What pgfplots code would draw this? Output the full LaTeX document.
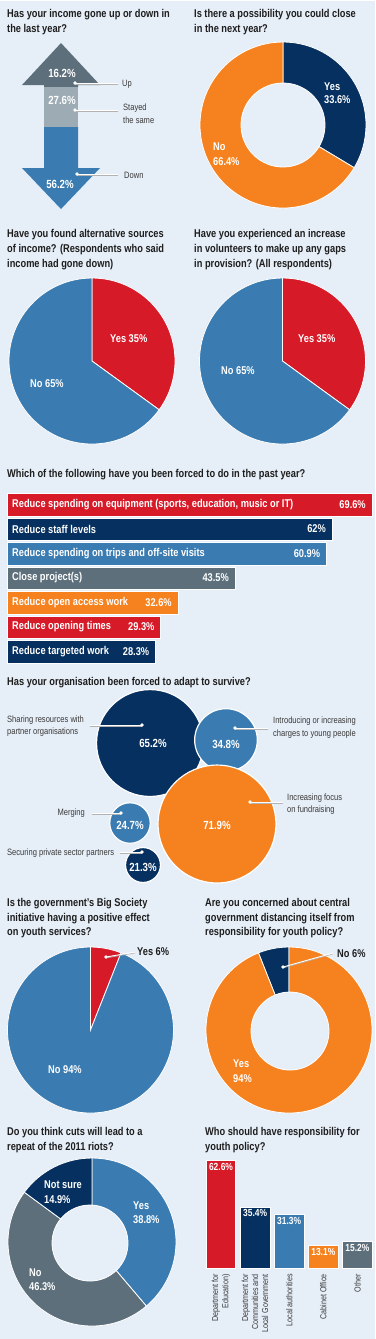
\documentclass[border=0pt]{standalone}
\usepackage{pgfplots}
\pgfplotsset{compat=1.18}
\usepackage{fontspec}
\setmainfont{Liberation Sans}[FakeStretch=0.82]
\definecolor{bg}{HTML}{E6EEF7}
\definecolor{navy}{HTML}{05305F}
\definecolor{blu}{HTML}{3A7CB1}
\definecolor{gred}{HTML}{D71A28}
\definecolor{orng}{HTML}{F5821F}
\definecolor{slate}{HTML}{5C6F7B}
\definecolor{lslate}{HTML}{9CABB4}
\definecolor{ttl}{HTML}{1E1E1E}
\definecolor{lbl}{HTML}{3A3A3A}
\newcommand{\tfont}{\fontsize{11.3}{14}\selectfont\bfseries}
\newcommand{\wfont}{\fontsize{11.3}{14}\selectfont\bfseries}
\newcommand{\bfontx}{\fontsize{11.8}{14}\selectfont\bfseries}
\newcommand{\sfont}{\fontsize{9.2}{12}\selectfont}
\newcommand{\rfont}{\fontsize{8.7}{10}\selectfont}
\newcommand{\vfont}{\fontsize{10.3}{12}\selectfont\bfseries}
% title line
\newcommand{\T}[3]{\node[anchor=base west,inner sep=0pt,text=ttl,font=\tfont] at (axis cs:#1,#2) {#3};}
% white label, base west
\newcommand{\W}[3]{\node[anchor=base west,inner sep=0pt,text=white,font=\wfont] at (axis cs:#1,#2) {#3};}
% dark label, base west
\newcommand{\D}[3]{\node[anchor=base west,inner sep=0pt,text=ttl,font=\wfont] at (axis cs:#1,#2) {#3};}
% white centred label
\newcommand{\C}[3]{\node[anchor=center,inner sep=0pt,text=white,font=\bfontx] at (axis cs:#1,#2) {#3};}
% small label
\newcommand{\SL}[3]{\node[anchor=base west,inner sep=0pt,text=lbl,font=\sfont] at (axis cs:#1,#2) {#3};}
% pie slice: cx, cy, radius, start angle, percent, colour
\newcommand{\slice}[6]{\fill[#6,draw=white,line width=0.8pt] (axis cs:#1,#2) -- ++(#4:#3pt) arc[start angle=#4,delta angle={-3.6*#5},radius=#3pt] -- cycle;}
\newcommand{\hole}[3]{\fill[bg,draw=white,line width=0.8pt] (axis cs:#1,#2) circle[radius=#3pt];}
% leader line
\newcommand{\leader}[4]{\draw[black!30,line width=0.7pt,yshift=-0.9pt] (axis cs:#1,#2) -- (axis cs:#3,#4);
  \draw[white,line width=0.9pt] (axis cs:#1,#2) -- (axis cs:#3,#4);}
\newcommand{\dotat}[2]{\fill[white] (axis cs:#1,#2) circle[radius=1.8pt];}
\pgfplotsset{/pgf/number format/assume math mode=true}
\begin{document}
\begin{tikzpicture}
\fill[bg] (0,0) rectangle (375pt,-1339pt);
\draw[white,line width=1.2pt] (0,-0.6pt) -- (375pt,-0.6pt);
% ================= canvas axis =================
\begin{axis}[at={(0,0)},anchor=north west,x=1pt,y=1pt,y dir=reverse,
  xmin=0,xmax=375,ymin=0,ymax=1339,hide axis,clip=false,clip mode=individual]
% ---- section 1 titles
\T{7}{17}{Has your income gone up or down in}
\T{7}{32}{the last year?}
\T{194}{17}{Is there a possibility you could close}
\T{194}{32}{in the next year?}
% ---- arrow (stacked: up 16.2, same 27.6, down 56.2)
\addplot[fill=slate,draw=none,no marks] coordinates {(61,43) (100,85) (78,85) (78,87) (44,87) (44,85) (22,85)} -- cycle;
\addplot[fill=lslate,draw=none,no marks] coordinates {(44,87) (78,87) (78,127) (44,127)} -- cycle;
\addplot[fill=blu,draw=none,no marks] coordinates {(44,127) (78,127) (78,168) (100,168) (61,209) (22,168) (44,168)} -- cycle;
\C{62}{73}{16.2\%}
\C{62}{100}{27.6\%}
\C{60}{184}{56.2\%}
\leader{75}{83}{118}{83}\dotat{75}{83}
\leader{75}{110}{118}{110}\dotat{75}{110}
\leader{77}{174}{118}{174}\dotat{77}{174}
\SL{122}{86}{Up}
\SL{123}{110}{Stayed}
\SL{123}{123}{the same}
\SL{124}{178}{Down}
% ---- donut: close next year
\slice{283}{125}{83}{90}{33.6}{navy}
\slice{283}{125}{83}{-30.96}{66.4}{orng}
\hole{283}{125}{42}
\W{324}{90}{Yes}
\W{324}{103}{33.6\%}
\W{213}{150}{No}
\W{213}{165}{66.4\%}
% ---- section 2 titles
\T{7}{237}{Have you found alternative sources}
\T{7}{252}{of income? (Respondents who said}
\T{7}{267}{income had gone down)}
\T{194}{237}{Have you experienced an increase}
\T{194}{252}{in volunteers to make up any gaps}
\T{194}{267}{in provision? (All respondents)}
% ---- pies
\slice{92}{361}{83}{90}{35}{gred}
\slice{92}{361}{83}{-36}{65}{blu}
\W{110}{342}{Yes 35\%}
\W{30}{387}{No 65\%}
\slice{282.5}{361}{83}{90}{35}{gred}
\slice{282.5}{361}{83}{-36}{65}{blu}
\W{298}{342}{Yes 35\%}
\W{221}{374}{No 65\%}
% ---- bar chart title
\T{7}{477}{Which of the following have you been forced to do in the past year?}
% ---- bubble section
\T{7}{685}{Has your organisation been forced to adapt to survive?}
\addplot[only marks,mark=*,mark size={0.82*65.2},mark options={fill=navy,draw=white,line width=1.2pt}] coordinates {(150,743)};
\addplot[only marks,mark=*,mark size={0.9*34.8},mark options={fill=blu,draw=white,line width=1.2pt}] coordinates {(226,740)};
\addplot[only marks,mark=*,mark size={0.82*71.9},mark options={fill=orng,draw=white,line width=1.2pt}] coordinates {(217,824)};
\addplot[only marks,mark=*,mark size={0.82*24.7},mark options={fill=blu,draw=white,line width=1.2pt}] coordinates {(130,823)};
\addplot[only marks,mark=*,mark size={0.82*21.3},mark options={fill=navy,draw=white,line width=1.2pt}] coordinates {(143,865)};
\C{153}{743}{65.2\%}
\C{226}{744}{34.8\%}
\C{217}{825}{71.9\%}
\C{130}{825}{24.7\%}
\C{143}{867}{21.3\%}
\leader{90}{725}{142}{725}\dotat{142}{725}
\leader{235}{728}{268}{728}\dotat{235}{728}
\leader{250}{802}{283}{802}\dotat{250}{802}
\leader{92}{813}{121}{813}\dotat{121}{813}
\leader{120}{852}{142}{852}\dotat{142}{852}
\SL{7}{722}{Sharing resources with}
\SL{7}{734}{partner organisations}
\SL{273}{723}{Introducing or increasing}
\SL{273}{736}{charges to young people}
\SL{287}{800}{Increasing focus}
\SL{287}{812}{on fundraising}
\node[anchor=base east,inner sep=0pt,text=lbl,font=\sfont] at (axis cs:85,815) {Merging};
\SL{7}{855}{Securing private sector partners}
% ---- section 4 titles
\T{7}{906}{Is the government’s Big Society}
\T{7}{921}{initiative having a positive effect}
\T{7}{935}{on youth services?}
\T{205}{906}{Are you concerned about central}
\T{205}{921}{government distancing itself from}
\T{205}{935}{responsibility for youth policy?}
% Big Society pie
\slice{90.5}{1030}{83}{90}{6}{gred}
\slice{90.5}{1030}{83}{68.4}{94}{blu}
\W{48}{1073}{No 94\%}
\leader{106}{957}{135}{952}\dotat{106}{957}
\D{137}{955}{Yes 6\%}
% central government donut
\slice{289}{1030}{83}{111.6}{6}{navy}
\slice{289}{1030}{83}{90}{94}{orng}
\hole{290}{1031}{39}
\W{233}{1067}{Yes}
\W{233}{1082}{94\%}
\leader{283}{967}{333}{953}\dotat{283}{967}
\D{337}{957}{No 6\%}
% ---- section 5 titles
\T{7}{1135}{Do you think cuts will lead to a}
\T{7}{1150}{repeat of the 2011 riots?}
\T{205}{1135}{Who should have responsibility for}
\T{205}{1150}{youth policy?}
% riots donut
\slice{92}{1242}{84}{90}{38.8}{blu}
\slice{92}{1242}{84}{-49.68}{46.3}{slate}
\slice{92}{1242}{84}{-216.36}{14.9}{navy}
\hole{90}{1243}{38}
\W{44}{1188}{Not sure}
\W{44}{1203}{14.9\%}
\W{133}{1209}{Yes}
\W{133}{1223}{38.8\%}
\W{29}{1276}{No}
\W{29}{1290}{46.3\%}
\end{axis}
% ================= horizontal bar chart =================
\begin{axis}[at={(7pt,-492.25pt)},anchor=north west,x=5.244pt,y=24.5pt,y dir=reverse,
  xmin=0,xmax=69.6,ymin=-0.5,ymax=6.5,hide axis,clip=false,
  xbar,bar width=22.5pt,bar shift=0pt,point meta=x,
  nodes near coords={\pgfmathprintnumber[fixed,precision=1]{\pgfplotspointmeta}\%},
  nodes near coords style={anchor=east,xshift=-6pt,text=white,font=\wfont,inner sep=0pt}]
\addplot[fill=gred,draw=white,line width=0.5pt] coordinates {(69.6,0)};
\addplot[fill=navy,draw=white,line width=0.5pt] coordinates {(62,1)};
\addplot[fill=blu,draw=white,line width=0.5pt] coordinates {(60.9,2)};
\addplot[fill=slate,draw=white,line width=0.5pt] coordinates {(43.5,3)};
\addplot[fill=orng,draw=white,line width=0.5pt] coordinates {(32.6,4)};
\addplot[fill=gred,draw=white,line width=0.5pt] coordinates {(29.3,5)};
\addplot[fill=navy,draw=white,line width=0.5pt] coordinates {(28.3,6)};
\node[anchor=west,xshift=5pt,inner sep=0pt,text=white,font=\wfont] at (axis cs:0,0) {Reduce spending on equipment (sports, education, music or IT)};
\node[anchor=west,xshift=5pt,inner sep=0pt,text=white,font=\wfont] at (axis cs:0,1) {Reduce staff levels};
\node[anchor=west,xshift=5pt,inner sep=0pt,text=white,font=\wfont] at (axis cs:0,2) {Reduce spending on trips and off-site visits};
\node[anchor=west,xshift=5pt,inner sep=0pt,text=white,font=\wfont] at (axis cs:0,3) {Close project(s)};
\node[anchor=west,xshift=5pt,inner sep=0pt,text=white,font=\wfont] at (axis cs:0,4) {Reduce open access work};
\node[anchor=west,xshift=5pt,inner sep=0pt,text=white,font=\wfont] at (axis cs:0,5) {Reduce opening times};
\node[anchor=west,xshift=5pt,inner sep=0pt,text=white,font=\wfont] at (axis cs:0,6) {Reduce targeted work};
\end{axis}
% ================= vertical bar chart =================
\begin{axis}[at={(203.95pt,-1268pt)},anchor=south west,x=34.1pt,y=1.725pt,
  xmin=-0.5,xmax=4.5,ymin=0,ymax=70,clip=false,
  ybar,bar width=29.5pt,bar shift=0pt,point meta=y,
  axis line style={draw=none},major tick length=0pt,ytick=\empty,
  xtick={0,1,2,3,4},
  xticklabels={{Department for\\Education)},{Department for\\Communities and\\Local Government},{Local authorities},{Cabinet Office},{Other}},
  xticklabel style={rotate=90,anchor=east,align=right,font=\rfont,text=lbl,inner sep=0pt},
  xticklabel shift=6pt,
  nodes near coords={\pgfmathprintnumber[fixed,precision=1]{\pgfplotspointmeta}\%},
  nodes near coords style={anchor=north,yshift=-2.5pt,text=white,font=\vfont,inner sep=0pt}]
\addplot[fill=gred,draw=white,line width=0.6pt] coordinates {(0,62.6)};
\addplot[fill=navy,draw=white,line width=0.6pt] coordinates {(1,35.4)};
\addplot[fill=blu,draw=white,line width=0.6pt] coordinates {(2,31.3)};
\addplot[fill=orng,draw=white,line width=0.6pt] coordinates {(3,13.1)};
\addplot[fill=slate,draw=white,line width=0.6pt] coordinates {(4,15.2)};
\end{axis}
\pgfresetboundingbox
\useasboundingbox (0,0) rectangle (375pt,-1339pt);
\end{tikzpicture}
\end{document}
